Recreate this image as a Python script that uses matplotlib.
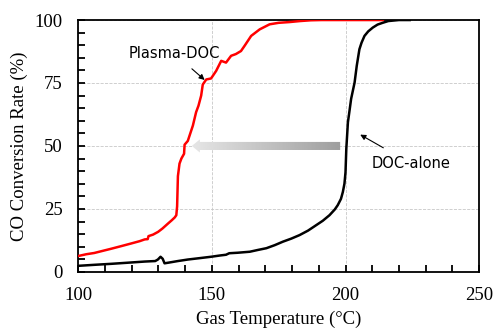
import numpy as np
import matplotlib
matplotlib.use("Agg")
import matplotlib.pyplot as plt
from matplotlib.patches import Polygon
from matplotlib.ticker import MultipleLocator

# Plasma-DOC (red)
plasma_x = [100, 103, 106, 109, 112.4, 116, 119.9, 123, 124.9, 126, 126.3, 128, 129.9,
            131.5, 133.6, 135, 136.1, 136.7, 137.0, 137.3, 137.9, 138.6, 139.6, 139.8,
            141, 142.9, 144.1, 145, 146, 146.6, 147.9, 149.7, 151.6, 153.5, 155.3,
            157.2, 159, 160.9, 162.2, 164.7, 167.9, 171.6, 175, 179.1, 183, 187, 191,
            200, 214]
plasma_y = [6.3, 7.0, 7.5, 8.3, 9.2, 10.2, 11.3, 12.2, 12.9, 13.0, 14.2, 14.8, 15.9,
            17.2, 19.2, 20.5, 21.6, 22.5, 26, 38, 43, 45, 46.9, 50.5,
            52, 58.1, 63.4, 66, 70, 74.4, 76.4, 76.8, 79.8, 83.8, 83.1,
            85.8, 86.5, 87.7, 89.7, 93.7, 96.3, 98.3, 98.9, 99.2, 99.6, 99.9, 100,
            100, 100]

# DOC-alone (black)
doc_x = [100, 106, 112.4, 118, 124.9, 128.8, 129.8, 130.8, 131.6, 132.3, 134, 137.3,
         141, 145, 149.7, 153, 155.3, 156.5, 159.7, 164.2, 167.2, 170.4, 173.5, 176.6,
         179.7, 182.8, 186, 189.1, 191.5, 194, 196, 197.1, 198.3, 199, 199.6, 200,
         200.3, 200.9, 201.5, 202.1, 203.4, 204.2, 205.2, 206, 207.1, 208.5, 210.2,
         212, 213.9, 216, 220, 224]
doc_y = [2.4, 2.8, 3.2, 3.6, 4.1, 4.3, 4.9, 6.0, 5.2, 3.4, 3.7, 4.3,
         4.9, 5.4, 6.0, 6.5, 6.8, 7.4, 7.6, 8.0, 8.7, 9.4, 10.6, 12,
         13.2, 14.6, 16.4, 18.6, 20.3, 22.5, 24.8, 26.5, 29, 31.7, 35, 39.6,
         48.9, 59.4, 64, 68.7, 75.2, 81.8, 88.4, 91, 93.7, 95.5, 97,
         98.2, 98.9, 99.6, 100, 100]

arrow_tip_x = 142.5
arrow_end_x = 198
arrow_y = 50

plt.rcParams['font.family'] = ['Liberation Serif', 'DejaVu Serif']

fig = plt.figure(figsize=(4.95, 3.34), dpi=100)
ax = fig.add_axes([0.158, 0.186, 0.81, 0.754])

ax.plot(plasma_x, plasma_y, color='#ff0000', lw=1.8, zorder=3)
ax.plot(doc_x, doc_y, color='black', lw=1.8, zorder=3)

# grey gradient arrow
hw, bw, hl = 2.6, 1.6, 3.0
pts = [(arrow_tip_x, arrow_y), (arrow_tip_x + hl, arrow_y + hw), (arrow_tip_x + hl, arrow_y + bw),
       (arrow_end_x, arrow_y + bw), (arrow_end_x, arrow_y - bw), (arrow_tip_x + hl, arrow_y - bw),
       (arrow_tip_x + hl, arrow_y - hw)]
poly = Polygon(pts, closed=True, facecolor='none', edgecolor='none')
ax.add_patch(poly)
grad = np.linspace(0.9, 0.62, 256).reshape(1, -1)
im = ax.imshow(grad, cmap='gray', vmin=0, vmax=1, aspect='auto',
               extent=(arrow_tip_x, arrow_end_x, arrow_y - hw, arrow_y + hw), zorder=2)
im.set_clip_path(poly)

ax.set_xlim(100, 250)
ax.set_ylim(0, 100)
ax.xaxis.set_major_locator(MultipleLocator(50))
ax.xaxis.set_minor_locator(MultipleLocator(10))
ax.yaxis.set_major_locator(MultipleLocator(25))
ax.yaxis.set_minor_locator(MultipleLocator(5))
ax.tick_params(which='both', direction='in', length=5, width=1.3, color='black',
               labelsize=13.5, pad=11, top=False, right=False)
ax.grid(True, which='major', color='#c8c8c8', ls='--', lw=0.6)
for s in ax.spines.values():
    s.set_linewidth(1.3)

ax.set_xlabel('Gas Temperature (\u00b0C)', fontsize=13.5, labelpad=5)
ax.set_ylabel('CO Conversion Rate (%)', fontsize=13.5, labelpad=5)

ax.annotate('Plasma-DOC', xy=(147.3, 76.2), xytext=(135.8, 86.9), ha='center', va='center',
            fontsize=10.5, family='DejaVu Sans',
            arrowprops=dict(arrowstyle='-|>', color='black', lw=0.8, mutation_scale=8,
                            shrinkA=6, shrinkB=0))
ax.annotate('DOC-alone', xy=(205.5, 54.5), xytext=(224.5, 43), ha='center', va='center',
            fontsize=10.5, family='DejaVu Sans',
            arrowprops=dict(arrowstyle='-|>', color='black', lw=0.8, mutation_scale=8,
                            shrinkA=8, shrinkB=0))

fig.savefig('out.png', dpi=100)
